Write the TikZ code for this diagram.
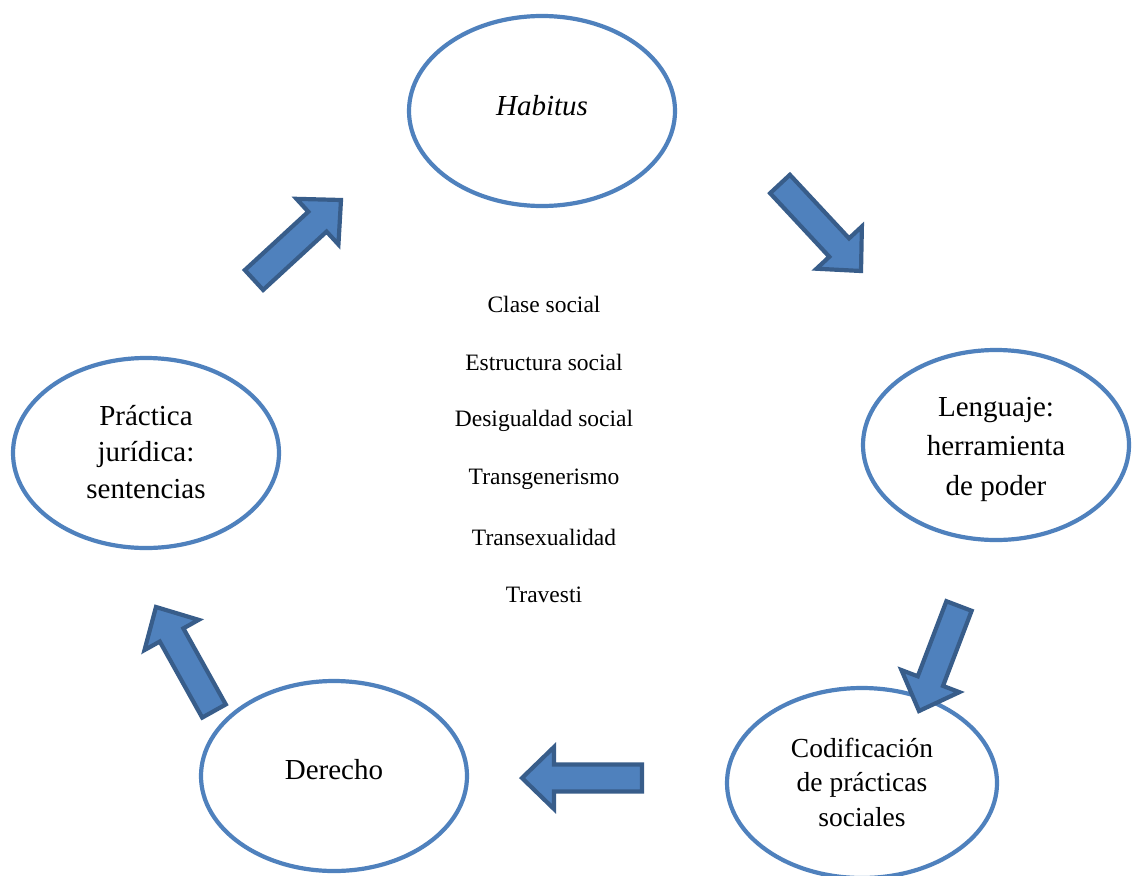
\documentclass[tikz,border=0pt]{standalone}
\usepackage{fontspec}
\setmainfont{Liberation Serif}
\usetikzlibrary{shapes.geometric,calc}
\definecolor{ellblue}{HTML}{4F81BD}
\definecolor{arrfill}{HTML}{4F81BD}
\definecolor{arredge}{HTML}{385D8A}
\def\sw{13.5pt}
\def\hw{31pt}
\def\hl{32pt}
\newcommand\blockarr[3]{%
  \coordinate (#1t) at #2;
  \coordinate (#1h) at #3;
  \coordinate (#1b) at ($(#1h)!\hl!(#1t)$);
  \draw[blockarrow] ($(#1t)!\sw!90:(#1h)$) -- ($(#1b)!\sw!90:(#1h)$) -- ($(#1b)!\hw!90:(#1h)$) -- (#1h) -- ($(#1b)!\hw!-90:(#1h)$) -- ($(#1b)!\sw!-90:(#1h)$) -- ($(#1t)!\sw!-90:(#1h)$) -- cycle;}
\tikzset{
  bubble/.style={ellipse, draw=ellblue, line width=4.2pt, fill=white, minimum width=266pt, minimum height=190pt, inner sep=0pt},
  btext/.style={align=center, inner sep=0pt, font=\fontsize{29}{#1}\selectfont},
  btext/.default=39,
  blockarrow/.style={fill=arrfill, draw=arredge, line width=4.2pt, line join=miter},
  item/.style={font=\fontsize{23.5}{28}\selectfont, inner sep=0pt}
}
\begin{document}
\begin{tikzpicture}[x=1pt,y=-1pt]
\useasboundingbox (0,0) rectangle (1139,875);
\clip (0,0) rectangle (1139,875);
\fill[white] (0,0) rectangle (1139,875);
\node[bubble] (hab) at (542,111) {};
\node[bubble] (len) at (996,445) {};
\node[bubble, minimum width=270pt] (cod) at (862,783) {};
\node[bubble] (der) at (334,776) {};
\node[bubble] (pra) at (146,453) {};
\node[btext] (habt) at (542,106) {\itshape Habitus};
\node[btext=39.5] (lent) at (996,449) {Lenguaje:\\herramienta\\de poder};
\node[btext=34.5, font=\fontsize{27.5}{34.5}\selectfont] (codt) at (862,782) {Codificación\\de prácticas\\sociales};
\node[btext] (dert) at (334,770) {Derecho};
\node[btext=36.5] (prat) at (146,452) {Práctica\\jurídica:\\sentencias};
\node[item] (i1) at (544,304) {Clase social};
\node[item] (i2) at (544,362) {Estructura social};
\node[item] (i3) at (544,421) {Desigualdad social};
\node[item] (i4) at (544,479) {Transgenerismo};
\node[item] (i5) at (544,537) {Transexualidad};
\node[item] (i6) at (544,595) {Travesti};
\blockarr{a}{(254,280)}{(341,200)}
\blockarr{b}{(780,184)}{(861,271)}
\blockarr{c}{(959,606)}{(919,711)}
\blockarr{d}{(642,778)}{(522,778)}
\blockarr{e}{(214,711)}{(156,607)}
\end{tikzpicture}
\end{document}
